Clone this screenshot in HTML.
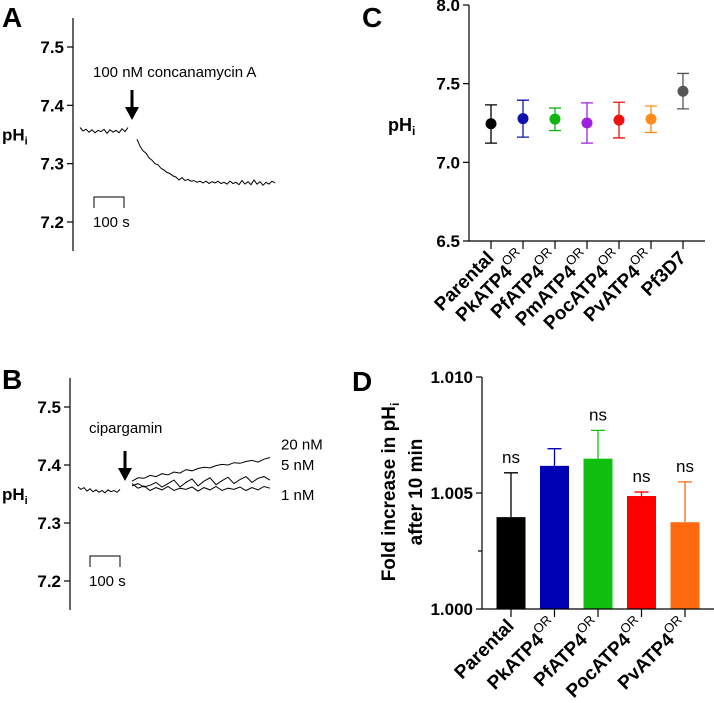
<!DOCTYPE html>
<html><head><meta charset="utf-8">
<style>
body{margin:0;background:#fff;}
svg{display:block;font-family:"Liberation Sans",Arial,sans-serif;}
.tk{font-weight:bold;font-size:17px;}
.xl{font-weight:bold;font-size:19px;}
.ax{stroke:#000;stroke-width:1.2;fill:none;}
.tr{stroke:#000;stroke-width:1;fill:none;}
</style></head>
<body>
<svg id="fig" width="714" height="703" viewBox="0 0 714 703">
<g id="pA"></g>
<g id="pB"></g>
<g id="pC"></g>
<g id="pD"></g>
</svg>
<script>
// Panel A data
const aPreT=[0,10,20,30,40,50,60,70,80,90,100,110,120,130,140,150,160];
const aPre=[7.362,7.356,7.359,7.354,7.358,7.353,7.357,7.355,7.359,7.352,7.358,7.354,7.357,7.353,7.360,7.355,7.362];
const aPostT=[190,200,210,220,230,240,250,260,270,280,290,300,310,320,330,340,350,360,370,380,390,400,410,420,430,440,450,460,470,480,490,500,510,520,530,540,550,560,570,580,590,600,610,620,630,640,650];
const aPost=[7.342,7.330,7.322,7.318,7.310,7.306,7.300,7.298,7.292,7.289,7.285,7.283,7.279,7.277,7.272,7.276,7.271,7.273,7.270,7.271,7.268,7.270,7.267,7.270,7.266,7.269,7.267,7.270,7.266,7.268,7.265,7.270,7.266,7.268,7.264,7.271,7.265,7.269,7.264,7.272,7.265,7.269,7.263,7.268,7.265,7.270,7.267];
const abTicks=[7.5,7.4,7.3,7.2];
// Panel B data
const bPreT=[0,10,20,30,40,50,60,70,80,90,100,110,120,130,140];
const bPre=[7.362,7.358,7.361,7.355,7.359,7.354,7.357,7.353,7.356,7.352,7.357,7.354,7.356,7.353,7.358];
const bPostT=[180,200,220,240,260,280,300,320,340,360,380,400,420,440,460,480,500,520,540,560,580,600,620,640];
const b20=[7.372,7.378,7.377,7.382,7.380,7.385,7.383,7.388,7.386,7.392,7.390,7.394,7.396,7.395,7.399,7.401,7.400,7.404,7.403,7.406,7.408,7.405,7.410,7.413];
const b5=[7.364,7.368,7.362,7.365,7.370,7.362,7.368,7.374,7.362,7.370,7.376,7.364,7.372,7.378,7.366,7.373,7.379,7.368,7.375,7.380,7.370,7.377,7.380,7.374];
const b1=[7.368,7.360,7.364,7.356,7.361,7.357,7.363,7.356,7.360,7.358,7.362,7.355,7.361,7.357,7.363,7.356,7.360,7.358,7.362,7.356,7.361,7.357,7.363,7.360];
// Panel C data
const cCats=["Parental","PkATP4","PfATP4","PmATP4","PocATP4","PvATP4","Pf3D7"];
const cSup=["","OR","OR","OR","OR","OR",""];
const cMean=[7.245,7.278,7.275,7.250,7.268,7.275,7.452];
const cLo=[7.122,7.160,7.202,7.122,7.155,7.190,7.340];
const cHi=[7.365,7.395,7.345,7.378,7.382,7.358,7.565];
const cColors=["#000000","#1010b0","#11b511","#a020e0","#f01010","#ff8c1a","#555555"];
const cTicks=[8.0,7.5,7.0,6.5];
// Panel D data
const dCats=["Parental","PkATP4","PfATP4","PocATP4","PvATP4"];
const dSup=["","OR","OR","OR","OR"];
const dMean=[1.00396,1.00617,1.00648,1.00487,1.00374];
const dErr=[1.00587,1.00691,1.00770,1.00504,1.00548];
const dNs=["ns","","ns","ns","ns"];
const dColors=["#000000","#0000b4","#11bf11","#ff0000","#ff6a10"];
const dTicks=[1.010,1.005,1.000];
const dMinor=[1.0025];

const NS="http://www.w3.org/2000/svg";
function mk(parent,tag,attrs,text){const e=document.createElementNS(NS,tag);for(const k in attrs)e.setAttribute(k,attrs[k]);if(text!==undefined)e.textContent=text;parent.appendChild(e);return e;}

function tracePanel(g,ax,yTop,yBot,y75,y72,letter,letterY){
  const y=v=>y75+(7.5-v)*(y72-y75)/0.3;
  const L=mk(g,"text",{x:2,y:letterY,"font-size":28,"font-weight":"bold"},letter);
  
  
  const axis=mk(g,"line",{x1:ax,y1:yTop,x2:ax,y2:yBot,class:"ax"});
  
  
  abTicks.forEach(t=>{
    const tl=mk(g,"line",{x1:ax-6,y1:y(t),x2:ax,y2:y(t),class:"ax"});
    
    
    const tx=mk(g,"text",{x:ax-9,y:y(t)+6,"text-anchor":"end",class:"tk"},t.toFixed(1));
    
    
  });
  const yl=mk(g,"text",{x:2,y:y(7.35)+6,"font-size":17,"font-weight":"bold"});
  
  
  mk(yl,"tspan",{},"pH");mk(yl,"tspan",{dy:4,"font-size":11},"i");
  return y;
}
function poly(g,ts,vs,xf,yf,name){
  const p=mk(g,"polyline",{points:ts.map((t,i)=>xf(t).toFixed(1)+","+yf(vs[i]).toFixed(1)).join(" "),class:"tr"});
  
  
}
function arrow(g,x,y1,y2){
  const a=mk(g,"path",{d:`M${x-1.5},${y1} L${x+1.5},${y1} L${x+1.5},${y2-13} L${x+7},${y2-13} L${x},${y2} L${x-7},${y2-13} L${x-1.5},${y2-13} Z`,fill:"#000"});
  
  
}
function scalebar(g,x,y,label){
  const s=mk(g,"path",{d:`M${x},${y+11} L${x},${y} L${x+30},${y} L${x+30},${y+11}`,class:"tr"});
  
  
  const t=mk(g,"text",{x:x-1,y:y+30,"font-size":15},label);
  
  
}
// Panel A
(function(){
  const g=document.getElementById("pA");
  const y=tracePanel(g,73,18,251,47,222,"A",27);
  const x=t=>80+t*0.3;
  poly(g,aPreT,aPre,x,y,"baseline-trace");
  poly(g,aPostT,aPost,x,y,"concanamycin-trace");
  arrow(g,132,90,120);
  const t=mk(g,"text",{x:93,y:77,"font-size":15},"100 nM concanamycin A");
  
  
  scalebar(g,94,197,"100 s");
})();
// Panel B
(function(){
  const g=document.getElementById("pB");
  const y=tracePanel(g,70,378,610,407,581,"B",389);
  const x=t=>78+t*0.3;
  poly(g,bPreT,bPre,x,y,"baseline-trace");
  poly(g,bPostT,b20,x,y,"trace-20nm");
  poly(g,bPostT,b5,x,y,"trace-5nm");
  poly(g,bPostT,b1,x,y,"trace-1nm");
  arrow(g,125,451,481);
  const t=mk(g,"text",{x:89,y:433,"font-size":15},"cipargamin");
  
  
  [["20 nM",x(650)+8,y(b20[23])-8],["5 nM",x(650)+8,y(b5[23])-10],["1 nM",x(650)+8,y(b1[23])+12]].forEach(d=>{
    const l=mk(g,"text",{x:d[1],y:d[2],"font-size":15},d[0]);
    
    
  });
  scalebar(g,90,556,"100 s");
})();
function xLabels(g,cats,sups,xf,yBase){
  cats.forEach((c,i)=>{
    const tx=mk(g,"text",{x:0,y:0,"text-anchor":"end",class:"xl",transform:`translate(${xf(i)+4},${yBase}) rotate(-45)`});
    
    
    mk(tx,"tspan",{},c);
    if(sups[i]) mk(tx,"tspan",{dy:-9,"font-size":13,"font-weight":"normal"},sups[i]);
  });
}
// Panel C
(function(){
  const g=document.getElementById("pC");
  const ax=469, y=v=>5+(8.0-v)*(241-5)/1.5, x=i=>491+i*32;
  const L=mk(g,"text",{x:362,y:27,"font-size":28,"font-weight":"bold"},"C");
  
  
  const a1=mk(g,"path",{d:`M${ax},${y(8)} L${ax},${y(6.5)} L705,${y(6.5)}`,class:"ax"});
  
  
  cTicks.forEach(t=>{
    const tl=mk(g,"line",{x1:ax-6,y1:y(t),x2:ax,y2:y(t),class:"ax"});
    
    
    const tx=mk(g,"text",{x:ax-9,y:y(t)+6,"text-anchor":"end",class:"tk"},t.toFixed(1));
    
    
  });
  const yl=mk(g,"text",{x:388,y:131,"font-size":18,"font-weight":"bold"});
  
  
  mk(yl,"tspan",{},"pH");mk(yl,"tspan",{dy:4,"font-size":12},"i");
  cCats.forEach((c,i)=>{
    const tl=mk(g,"line",{x1:x(i),y1:y(6.5),x2:x(i),y2:y(6.5)+8,class:"ax"});
    
    
    const e=mk(g,"path",{d:`M${x(i)-6},${y(cHi[i])} L${x(i)+6},${y(cHi[i])} M${x(i)},${y(cHi[i])} L${x(i)},${y(cLo[i])} M${x(i)-6},${y(cLo[i])} L${x(i)+6},${y(cLo[i])}`,stroke:cColors[i],"stroke-width":1.3,fill:"none"});
    
    
    const p=mk(g,"circle",{cx:x(i),cy:y(cMean[i]),r:5.5,fill:cColors[i]});
    
    
  });
  xLabels(g,cCats,cSup,x,259);
})();
// Panel D
(function(){
  const g=document.getElementById("pD");
  const ax=482, y=v=>609-(v-1.0)*(609-377)/0.010, x=i=>511+i*43.5, bw=29;
  const L=mk(g,"text",{x:352,y:391,"font-size":28,"font-weight":"bold"},"D");
  
  
  dCats.forEach((c,i)=>{
    const e=mk(g,"path",{d:`M${x(i)},${y(dMean[i])} L${x(i)},${y(dErr[i])} M${x(i)-7},${y(dErr[i])} L${x(i)+7},${y(dErr[i])}`,stroke:dColors[i],"stroke-width":1.3,fill:"none"});
    
    
    const b=mk(g,"rect",{x:x(i)-bw/2,y:y(dMean[i]),width:bw,height:y(1.0)-y(dMean[i]),fill:dColors[i]});
    
    
    if(dNs[i]){
      const n=mk(g,"text",{x:x(i),y:y(dErr[i])-10,"text-anchor":"middle","font-size":17},dNs[i]);
      
      
    }
    const tl=mk(g,"line",{x1:x(i),y1:y(1.0),x2:x(i),y2:y(1.0)+8,class:"ax"});
    
    
  });
  const a1=mk(g,"path",{d:`M${ax},${y(1.010)} L${ax},${y(1.0)} L714,${y(1.0)}`,class:"ax"});
  
  
  dTicks.forEach(t=>{
    const tl=mk(g,"line",{x1:ax-6,y1:y(t),x2:ax,y2:y(t),class:"ax"});
    
    
    const tx=mk(g,"text",{x:ax-9,y:y(t)+6,"text-anchor":"end",class:"tk"},t.toFixed(3));
    
    
  });
  dMinor.forEach(t=>{
    const tl=mk(g,"line",{x1:ax-4,y1:y(t),x2:ax,y2:y(t),class:"ax"});
    
    
  });
  const yl=mk(g,"text",{x:0,y:0,"text-anchor":"middle","font-size":19,"font-weight":"bold",transform:"translate(395,492) rotate(-90)"});
  
  
  mk(yl,"tspan",{},"Fold increase in pH");mk(yl,"tspan",{dy:4,"font-size":12},"i");
  const yl2=mk(g,"text",{x:0,y:0,"text-anchor":"middle","font-size":19,"font-weight":"bold",transform:"translate(422,492) rotate(-90)"},"after 10 min");
  
  
  xLabels(g,dCats,dSup,x,627);
})();
</script>
</body></html>
